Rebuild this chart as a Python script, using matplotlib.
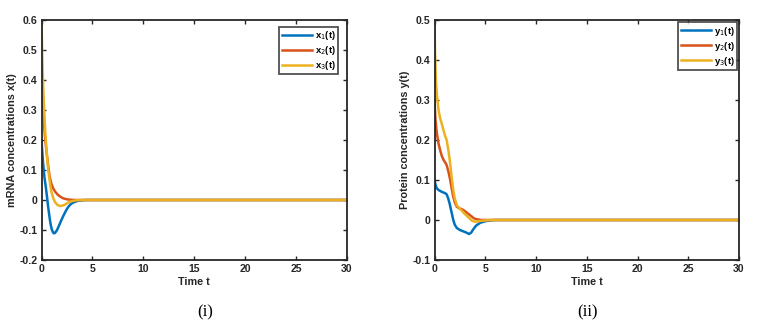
import matplotlib
matplotlib.use("Agg")
import matplotlib.pyplot as plt

# Panel (i): mRNA concentrations
t1 = [0, 0.08, 0.16, 0.28, 0.42, 0.55, 0.65, 0.78, 0.88, 1.0, 1.1, 1.2, 1.32, 1.53, 1.75, 1.95, 2.2, 2.44, 2.65, 2.9, 3.2, 3.57, 4.0, 4.4, 6, 30]
x1 = [0.2, 0.158, 0.122, 0.078, 0.044, 0.008, -0.022, -0.055, -0.078, -0.097, -0.106, -0.111, -0.11, -0.1, -0.083, -0.067, -0.049, -0.033, -0.022, -0.013, -0.007, -0.003, -0.001, 0.0, 0.0, 0.0]
t2 = [0, 0.08, 0.16, 0.24, 0.32, 0.44, 0.55, 0.68, 0.8, 0.96, 1.14, 1.38, 1.62, 1.85, 2.1, 2.4, 2.76, 3.3, 4, 30]
x2 = [0.4, 0.345, 0.3, 0.258, 0.22, 0.178, 0.144, 0.108, 0.078, 0.055, 0.039, 0.026, 0.017, 0.011, 0.006, 0.003, 0.001, 0.0, 0.0, 0.0]
t3 = [0, 0.05, 0.1, 0.18, 0.26, 0.37, 0.49, 0.62, 0.75, 0.86, 0.97, 1.13, 1.3, 1.55, 1.8, 2.03, 2.27, 2.5, 2.76, 3.05, 3.4, 4.0, 4.5, 30]
x3 = [0.6, 0.515, 0.44, 0.365, 0.3, 0.228, 0.167, 0.115, 0.078, 0.05, 0.028, 0.009, -0.006, -0.016, -0.02, -0.019, -0.016, -0.011, -0.006, -0.003, -0.001, 0.0, 0.0, 0.0]

# Panel (ii): Protein concentrations
s1 = [0, 0.1, 0.23, 0.4, 0.6, 0.85, 1.05, 1.2, 1.35, 1.5, 1.7, 1.85, 2.0, 2.2, 2.5, 2.8, 3.1, 3.4, 3.6, 3.8, 4.1, 4.5, 5.0, 5.5, 6.0, 30]
y1 = [0.1, 0.088, 0.079, 0.075, 0.072, 0.069, 0.067, 0.064, 0.054, 0.04, 0.017, 0.0, -0.012, -0.02, -0.025, -0.028, -0.031, -0.035, -0.032, -0.024, -0.014, -0.007, -0.003, -0.001, 0.0, 0.0]
s2 = [0, 0.1, 0.23, 0.38, 0.55, 0.72, 0.9, 1.05, 1.2, 1.38, 1.55, 1.7, 1.85, 2.0, 2.2, 2.45, 2.7, 2.95, 3.2, 3.45, 3.7, 3.9, 4.15, 4.6, 5.0, 30]
y2 = [0.3, 0.25, 0.217, 0.193, 0.175, 0.16, 0.15, 0.144, 0.137, 0.12, 0.1, 0.078, 0.058, 0.044, 0.033, 0.029, 0.027, 0.023, 0.018, 0.013, 0.008, 0.004, 0.002, 0.0, 0.0, 0.0]
s3 = [0, 0.05, 0.16, 0.28, 0.4, 0.55, 0.72, 0.88, 1.05, 1.2, 1.38, 1.55, 1.7, 1.85, 2.0, 2.2, 2.45, 2.7, 2.95, 3.2, 3.45, 3.7, 3.95, 4.15, 4.6, 5.5, 30]
y3 = [0.5, 0.42, 0.34, 0.3, 0.275, 0.255, 0.24, 0.225, 0.21, 0.2, 0.172, 0.14, 0.105, 0.075, 0.053, 0.037, 0.029, 0.023, 0.016, 0.01, 0.004, -0.002, -0.004, -0.004, -0.002, 0.0, 0.0]

xticks = [0, 5, 10, 15, 20, 25, 30]
colors = ["#0072BD", "#D95319", "#EDB120"]

plt.rcParams['font.family'] = ['Liberation Sans', 'DejaVu Sans']
fig = plt.figure(figsize=(7.63, 3.24), dpi=100)
W, H = 763, 324

def make_axes(left, right, top, bottom):
    return fig.add_axes([left / W, 1 - bottom / H, (right - left) / W, (bottom - top) / H])

def style(ax, ylim, yticks, ylabel):
    ax.set_xlim(0, 30)
    ax.set_ylim(*ylim)
    ax.set_xticks(xticks)
    ax.set_yticks(yticks)
    ax.set_xticklabels([str(v) for v in xticks], fontweight='bold', fontsize=7.6, color='#262626')
    ax.set_yticklabels([("%g" % v) for v in yticks], fontweight='bold', fontsize=7.6, color='#262626')
    ax.tick_params(direction='in', top=True, right=True, length=3, width=1.0, colors='#262626', pad=3)
    for s in ax.spines.values():
        s.set_linewidth(1.3)
        s.set_color('#262626')
    ax.set_xlabel('Time t', fontweight='bold', fontsize=7.8, color='#262626', labelpad=2)
    ax.set_ylabel(ylabel, fontweight='bold', fontsize=7.8, color='#262626', labelpad=2)

def legend(ax, anchor):
    leg = ax.legend(loc='upper right', bbox_to_anchor=anchor, fontsize=6.8, frameon=True,
                    fancybox=False, edgecolor='#262626', handlelength=3.2, handletextpad=0.3,
                    borderpad=0.25, labelspacing=0.2, borderaxespad=0.0)
    leg.get_frame().set_linewidth(1.3)
    for txt in leg.get_texts():
        txt.set_fontweight('bold')

ax1 = make_axes(41.5, 347, 20, 260)
ax1.plot(t1, x1, color=colors[0], lw=1.8, label=r'x$_1$(t)')
ax1.plot(t2, x2, color=colors[1], lw=1.8, label=r'x$_2$(t)')
ax1.plot(t3, x3, color=colors[2], lw=1.8, label=r'x$_3$(t)')
style(ax1, (-0.2, 0.6), [-0.2, -0.1, 0, 0.1, 0.2, 0.3, 0.4, 0.5, 0.6], 'mRNA concentrations x(t)')
legend(ax1, (0.97, 0.972))

ax2 = make_axes(434.5, 739, 20, 260)
ax2.plot(s1, y1, color=colors[0], lw=1.8, label=r'y$_1$(t)')
ax2.plot(s2, y2, color=colors[1], lw=1.8, label=r'y$_2$(t)')
ax2.plot(s3, y3, color=colors[2], lw=1.8, label=r'y$_3$(t)')
style(ax2, (-0.1, 0.5), [-0.1, 0, 0.1, 0.2, 0.3, 0.4, 0.5], 'Protein concentrations y(t)')
legend(ax2, (0.993, 0.99))

fig.text(205 / W, 1 - 312 / H, '(i)', ha='center', va='center', fontsize=12,
         family=['Liberation Serif', 'DejaVu Serif'])
fig.text(587 / W, 1 - 312 / H, '(ii)', ha='center', va='center', fontsize=12,
         family=['Liberation Serif', 'DejaVu Serif'])

fig.savefig('out.png', dpi=100, facecolor='white')
